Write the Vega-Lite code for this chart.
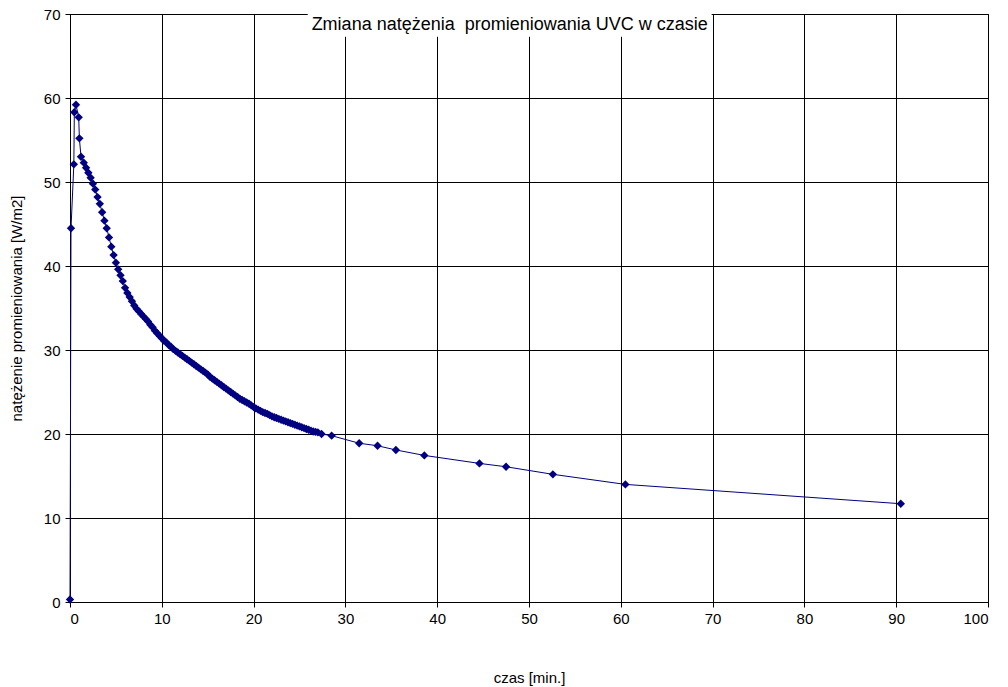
{
  "$schema": "https://vega.github.io/schema/vega-lite/v6.json",
  "width": 918,
  "height": 588,
  "autosize": {"type": "none"},
  "padding": {"left": 70, "top": 14, "right": 20, "bottom": 85},
  "background": "white",
  "config": {
    "view": {"stroke": "#000000", "strokeWidth": 1},
    "font": "Liberation Sans",
    "axis": {
      "grid": true,
      "gridColor": "#000000",
      "gridOpacity": 1,
      "gridWidth": 1,
      "domainColor": "#000000",
      "tickColor": "#000000",
      "tickSize": 5,
      "labelFont": "Liberation Sans",
      "labelFontSize": 15,
      "labelColor": "#000000",
      "titleFont": "Liberation Sans",
      "titleFontSize": 15,
      "titleFontWeight": "normal",
      "titleColor": "#000000"
    }
  },
  "datasets": {
    "uv": [
      {"t": 0.0, "e": 0.3},
      {"t": 0.11, "e": 44.5},
      {"t": 0.42, "e": 52.1},
      {"t": 0.47, "e": 58.3},
      {"t": 0.65, "e": 59.2},
      {"t": 0.95, "e": 57.7},
      {"t": 1.02, "e": 55.2},
      {"t": 1.2, "e": 53.0},
      {"t": 1.5, "e": 52.3},
      {"t": 1.75, "e": 51.7},
      {"t": 2.0, "e": 51.1},
      {"t": 2.25, "e": 50.5},
      {"t": 2.5, "e": 49.8},
      {"t": 2.75, "e": 49.1},
      {"t": 3.0, "e": 48.2},
      {"t": 3.25, "e": 47.4},
      {"t": 3.5, "e": 46.4},
      {"t": 3.75, "e": 45.4},
      {"t": 4.0, "e": 44.5},
      {"t": 4.25, "e": 43.4},
      {"t": 4.5, "e": 42.3},
      {"t": 4.75, "e": 41.3},
      {"t": 5.0, "e": 40.4},
      {"t": 5.25, "e": 39.6},
      {"t": 5.5, "e": 38.9},
      {"t": 5.75, "e": 38.2},
      {"t": 6.0, "e": 37.4},
      {"t": 6.25, "e": 36.8},
      {"t": 6.5, "e": 36.3},
      {"t": 6.75, "e": 35.8},
      {"t": 7.0, "e": 35.3},
      {"t": 7.25, "e": 34.9},
      {"t": 7.5, "e": 34.6},
      {"t": 7.75, "e": 34.3},
      {"t": 8.0, "e": 34.0},
      {"t": 8.25, "e": 33.7},
      {"t": 8.5, "e": 33.4},
      {"t": 8.75, "e": 33.0},
      {"t": 9.0, "e": 32.7},
      {"t": 9.25, "e": 32.3},
      {"t": 9.5, "e": 32.0},
      {"t": 9.75, "e": 31.7},
      {"t": 10.0, "e": 31.4},
      {"t": 10.25, "e": 31.1},
      {"t": 10.5, "e": 30.9},
      {"t": 10.75, "e": 30.6},
      {"t": 11.0, "e": 30.4},
      {"t": 11.25, "e": 30.1},
      {"t": 11.5, "e": 29.9},
      {"t": 11.75, "e": 29.7},
      {"t": 12.0, "e": 29.5},
      {"t": 12.25, "e": 29.3},
      {"t": 12.5, "e": 29.1},
      {"t": 12.75, "e": 28.9},
      {"t": 13.0, "e": 28.7},
      {"t": 13.25, "e": 28.5},
      {"t": 13.5, "e": 28.3},
      {"t": 13.75, "e": 28.1},
      {"t": 14.0, "e": 27.9},
      {"t": 14.25, "e": 27.7},
      {"t": 14.5, "e": 27.5},
      {"t": 14.75, "e": 27.3},
      {"t": 15.0, "e": 27.1},
      {"t": 15.25, "e": 26.8},
      {"t": 15.5, "e": 26.6},
      {"t": 15.75, "e": 26.4},
      {"t": 16.0, "e": 26.2},
      {"t": 16.25, "e": 26.0},
      {"t": 16.5, "e": 25.8},
      {"t": 16.75, "e": 25.6},
      {"t": 17.0, "e": 25.4},
      {"t": 17.25, "e": 25.2},
      {"t": 17.5, "e": 25.0},
      {"t": 17.75, "e": 24.8},
      {"t": 18.0, "e": 24.6},
      {"t": 18.25, "e": 24.4},
      {"t": 18.5, "e": 24.2},
      {"t": 18.75, "e": 24.05},
      {"t": 19.0, "e": 23.9},
      {"t": 19.25, "e": 23.75},
      {"t": 19.5, "e": 23.6},
      {"t": 19.75, "e": 23.4},
      {"t": 20.0, "e": 23.2},
      {"t": 20.25, "e": 23.05},
      {"t": 20.5, "e": 22.9},
      {"t": 20.75, "e": 22.75},
      {"t": 21.0, "e": 22.6},
      {"t": 21.25, "e": 22.5},
      {"t": 21.5, "e": 22.4},
      {"t": 21.75, "e": 22.25},
      {"t": 22.0, "e": 22.1},
      {"t": 22.25, "e": 22.0},
      {"t": 22.5, "e": 21.9},
      {"t": 22.75, "e": 21.8},
      {"t": 23.0, "e": 21.7},
      {"t": 23.25, "e": 21.6},
      {"t": 23.5, "e": 21.5},
      {"t": 23.75, "e": 21.4},
      {"t": 24.0, "e": 21.3},
      {"t": 24.25, "e": 21.2},
      {"t": 24.5, "e": 21.1},
      {"t": 24.75, "e": 21.0},
      {"t": 25.0, "e": 20.9},
      {"t": 25.25, "e": 20.8},
      {"t": 25.5, "e": 20.7},
      {"t": 25.75, "e": 20.6},
      {"t": 26.0, "e": 20.5},
      {"t": 26.25, "e": 20.4},
      {"t": 26.5, "e": 20.3},
      {"t": 26.75, "e": 20.25},
      {"t": 27.0, "e": 20.2},
      {"t": 27.4, "e": 20.0},
      {"t": 28.5, "e": 19.8},
      {"t": 31.5, "e": 18.9},
      {"t": 33.5, "e": 18.6},
      {"t": 35.5, "e": 18.1},
      {"t": 38.6, "e": 17.45},
      {"t": 44.6, "e": 16.5},
      {"t": 47.5, "e": 16.1},
      {"t": 52.6, "e": 15.2},
      {"t": 60.5, "e": 14.0},
      {"t": 90.5, "e": 11.7}
    ],
    "label": [
      {"x1": 25.9, "x2": 69.9, "y1": 67.3, "y2": 70.3, "xm": 47.9, "ym": 68.7, "txt": "Zmiana natężenia\u00a0 promieniowania UVC w czasie"}
    ]
  },
  "layer": [
    {
      "data": {"name": "label"},
      "mark": {"type": "rect", "fill": "white", "stroke": null, "clip": false},
      "encoding": {
        "x": {"field": "x1", "type": "quantitative", "scale": {"domain": [0, 100]}},
        "x2": {"field": "x2"},
        "y": {"field": "y1", "type": "quantitative", "scale": {"domain": [0, 70]}},
        "y2": {"field": "y2"}
      }
    },
    {
      "data": {"name": "label"},
      "mark": {"type": "text", "font": "Liberation Sans", "fontSize": 18, "color": "#000000", "align": "center", "baseline": "middle"},
      "encoding": {
        "x": {"field": "xm", "type": "quantitative"},
        "y": {"field": "ym", "type": "quantitative"},
        "text": {"field": "txt"}
      }
    },
    {
      "data": {"name": "uv"},
      "mark": {"type": "line", "color": "#000080", "strokeWidth": 1},
      "encoding": {
        "x": {"field": "t", "type": "quantitative", "title": "czas [min.]",
              "scale": {"domain": [0, 100], "nice": false},
              "axis": {"values": [0,10,20,30,40,50,60,70,80,90,100], "labelPadding": 4, "titlePadding": 44}},
        "y": {"field": "e", "type": "quantitative", "title": "natężenie promieniowania [W/m2]",
              "scale": {"domain": [0, 70], "nice": false},
              "axis": {"values": [0,10,20,30,40,50,60,70], "labelPadding": 5, "titlePadding": 19}}
      }
    },
    {
      "data": {"name": "uv"},
      "mark": {"type": "point", "shape": "diamond", "filled": true, "color": "#000080", "size": 70, "opacity": 1},
      "encoding": {
        "x": {"field": "t", "type": "quantitative"},
        "y": {"field": "e", "type": "quantitative"}
      }
    }
  ]
}
